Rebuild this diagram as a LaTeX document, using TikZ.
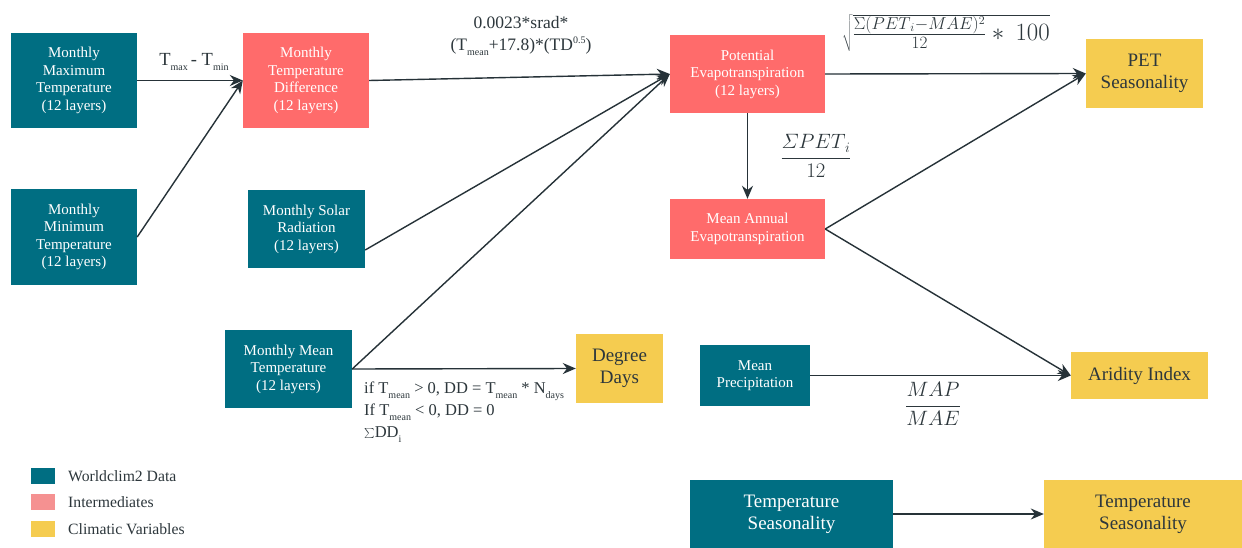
\documentclass[tikz,border=0pt]{standalone}
\usepackage{fontspec}
\setmainfont{Liberation Serif}
\usetikzlibrary{arrows.meta,calc}
\definecolor{teal}{RGB}{0,110,130}
\definecolor{salmon}{RGB}{255,107,107}
\definecolor{salmonlt}{RGB}{245,145,145}
\definecolor{yel}{RGB}{245,204,80}
\definecolor{linec}{RGB}{38,50,56}
\definecolor{txtc}{RGB}{45,55,60}
\newcommand\lowsub[1]{\raisebox{-0.6ex}{\fontsize{10}{10}\selectfont #1}}
\newcommand\hisup[1]{\raisebox{0.9ex}{\fontsize{10}{10}\selectfont #1}}
\tikzset{
  databox/.style={rectangle, fill=teal, text=white, align=center, inner sep=0pt, font=\fontsize{15}{17.5}\selectfont},
  midbox/.style={rectangle, fill=salmon, text=white, align=center, inner sep=0pt, font=\fontsize{15}{17.5}\selectfont},
  varbox/.style={rectangle, fill=yel, text=txtc, align=center, inner sep=0pt, font=\fontsize{19}{22}\selectfont},
  arr/.style={draw=linec, line width=1.4pt, -{Stealth[length=13pt,width=11pt]}},
  lbl/.style={text=txtc, inner sep=0pt, align=center},
  legsq/.style={rectangle, inner sep=0pt, minimum width=24pt, minimum height=16pt},
  legtxt/.style={text=txtc, anchor=west, inner sep=0pt, font=\fontsize{15.7}{17}\selectfont}
}
\begin{document}
\begin{tikzpicture}[x=1pt,y=-1pt]
\useasboundingbox[fill=white] (0,0) rectangle (1242,548);

% data boxes
\node[databox, minimum width=126pt, minimum height=95pt] (tmax) at (74,80.5) {Monthly\\Maximum\\Temperature\\(12 layers)};
\node[databox, minimum width=126pt, minimum height=96pt] (tmin) at (74,237) {Monthly\\Minimum\\Temperature\\(12 layers)};
\node[databox, minimum width=117pt, minimum height=78pt] (srad) at (306.5,229) {Monthly Solar\\Radiation\\(12 layers)};
\node[databox, minimum width=127pt, minimum height=78pt] (tmean) at (288.5,369) {Monthly Mean\\Temperature\\(12 layers)};
\node[databox, minimum width=110pt, minimum height=61pt] (prec) at (755,375.5) {Mean\\Precipitation};
\node[databox, minimum width=203pt, minimum height=68pt, font=\fontsize{19}{22}\selectfont] (tseas) at (791.5,514) {Temperature\\Seasonality};

% intermediates
\node[midbox, minimum width=126pt, minimum height=95pt] (tdiff) at (306,80.5) {Monthly\\Temperature\\Difference\\(12 layers)};
\node[midbox, minimum width=155pt, minimum height=78pt] (pet) at (747.5,74) {Potential\\Evapotranspiration\\(12 layers)};
\node[midbox, minimum width=155pt, minimum height=60pt] (mae) at (747.5,229) {Mean Annual\\Evapotranspiration};

% climatic variables
\node[varbox, minimum width=117pt, minimum height=69pt] (petseas) at (1144.5,73.5) {PET\\Seasonality};
\node[varbox, minimum width=87pt, minimum height=69pt] (dd) at (619.5,368.5) {Degree\\Days};
\node[varbox, minimum width=137pt, minimum height=47pt] (arid) at (1139.5,375.5) {Aridity Index};
\node[varbox, minimum width=198pt, minimum height=68pt] (tseasout) at (1143,514) {Temperature\\Seasonality};

% connectors
\draw[arr] (tmax.east) -- (tdiff.west);
\draw[arr] (tmin.east) -- (tdiff.west);
\draw[arr] (tdiff.east) -- (pet.west);
\draw[arr] ([yshift=-21pt]srad.east) -- (pet.west);
\draw[arr] (tmean.east) -- (pet.west);
\draw[arr] (tmean.east) -- (dd.west);
\draw[arr] (pet.south) -- (mae.north);
\draw[arr] (pet.east) -- (petseas.west);
\draw[arr] (mae.east) -- (petseas.west);
\draw[arr] (mae.east) -- (arid.west);
\draw[arr] (prec.east) -- (arid.west);
\draw[arr] (tseas.east) -- (tseasout.west);

% labels
\node[lbl, font=\fontsize{18.5}{20}\selectfont] (l1) at (194,62) {T\lowsub{max}\,- T\lowsub{min}};
\node[lbl, font=\fontsize{17.5}{22}\selectfont] (l2) at (521,36) {0.0023*srad*\\(T\lowsub{mean}+17.8)*(TD\hisup{0.5})};
\node[lbl, font=\fontsize{22}{24}\selectfont] (l3) at (816,156) {$\displaystyle\frac{\mathnormal{\Sigma}PET_{\,i}}{12}$};
\node[lbl, font=\fontsize{23}{26}\selectfont] (l4) at (946,33) {$\sqrt{\rule[-11pt]{0pt}{33pt}\frac{\Sigma(PET_{\,i}-MAE)^{2}}{12}\ast\ 100}$};
\node[lbl, font=\fontsize{21}{24}\selectfont] (l5) at (933,404) {$\displaystyle\frac{MAP}{MAE}$};
\node[lbl, font=\fontsize{16.5}{22}\selectfont, anchor=north west, align=left] (l6) at (364,382) {if T\lowsub{mean} > 0, DD = T\lowsub{mean} * N\lowsub{days}\\If T\lowsub{mean} < 0, DD = 0\\$\sum$DD\lowsub{i}};

% legend
\node[legsq, fill=teal] (sq1) at (43,476) {};
\node[legsq, fill=salmonlt] (sq2) at (43,502) {};
\node[legsq, fill=yel] (sq3) at (43,529) {};
\node[legtxt] (t1) at (68,476) {Worldclim2 Data};
\node[legtxt] (t2) at (68,502) {Intermediates};
\node[legtxt] (t3) at (68,529) {Climatic Variables};
\end{tikzpicture}
\end{document}
